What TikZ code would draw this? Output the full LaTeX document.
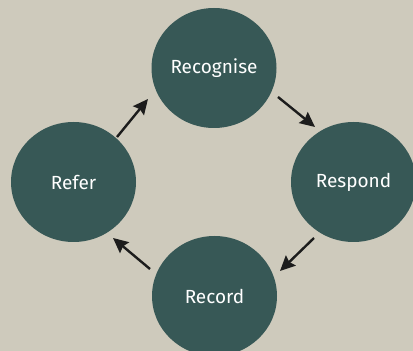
\documentclass[tikz,border=0pt]{standalone}
\usepackage{fontspec}
\setmainfont{Fira Sans}
\usetikzlibrary{arrows.meta,shapes.geometric}
\definecolor{paper}{HTML}{CECABC}
\definecolor{teal}{HTML}{375856}
\definecolor{ink}{HTML}{1C1C1C}

\begin{document}
\begin{tikzpicture}[x=1pt, y=1pt,
		stage/.style={ellipse, fill=teal, text=white, minimum width=125pt, minimum height=120pt, inner sep=0pt, font=\fontsize{19}{21}\selectfont},
		arr/.style={draw=ink, line width=2.4pt, -{Stealth[length=15pt, width=14pt, inset=2pt]}}]
		%%%%% START %%%%%
		\useasboundingbox (0, 0) rectangle (413, 351);
		\clip (0, 0) rectangle (413, 351);
		\fill[paper] (0, 0) rectangle (413, 351);
		
		\node[stage] (recognise) at (214, 283) {Recognise};
		\node[stage] (respond) at (353.5, 169) {Respond};
		\node[stage] (record) at (214.5, 55) {Record};
		\node[stage] (refer) at (73.5, 169) {Refer};
		
		\coordinate (a1s) at (117, 214);
		\coordinate (a1e) at (148, 252);
		\coordinate (a2s) at (278, 254);
		\coordinate (a2e) at (315, 224);
		\coordinate (a3s) at (314, 113);
		\coordinate (a3e) at (280, 80);
		\coordinate (a4s) at (150, 82);
		\coordinate (a4e) at (113, 113);
		
		\draw[arr] (a1s) -- (a1e);
		\draw[arr] (a2s) -- (a2e);
		\draw[arr] (a3s) -- (a3e);
		\draw[arr] (a4s) -- (a4e);
		%%%%% END %%%%%
	\end{tikzpicture}
\end{document}
